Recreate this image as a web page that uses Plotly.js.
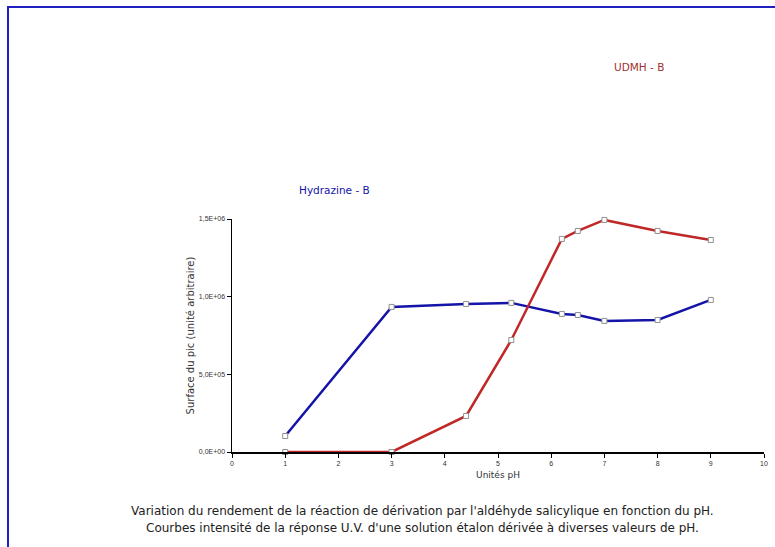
<!DOCTYPE html>
<html>
<head>
<meta charset="utf-8">
<script src="https://cdn.plot.ly/plotly-3.0.1.min.js"></script>
<style>
  html, body { margin: 0; padding: 0; background: #ffffff; }
  #frame { position: absolute; left: 7px; top: 6px; width: 775px; height: 547px;
           border-top: 2px solid #2020c0; border-left: 2px solid #2020c0; }
  #chart { position: absolute; left: 0; top: 0; width: 775px; height: 547px; }
</style>
</head>
<body>
<div id="frame"></div>
<div id="chart"></div>
<script>
// Data
const phHydrazine = [1, 3, 4.4, 5.25, 6.2, 6.5, 7, 8, 9];
const areaHydrazine = [103000, 934000, 953000, 960000, 889000, 882000, 844000, 850000, 979000];
const phUDMH = [1, 3, 4.4, 5.25, 6.2, 6.5, 7, 8, 9];
const areaUDMH = [0, 0, 232000, 721000, 1372000, 1423000, 1494000, 1423000, 1365000];
const xTicks = [0, 1, 2, 3, 4, 5, 6, 7, 8, 9, 10];
const yTickVals = [0, 500000, 1000000, 1500000];
const yTickText = ["0,0E+00", "5,0E+05", "1,0E+06", "1,5E+06"];
const labelHydrazine = "Hydrazine - B";
const labelUDMH = "UDMH - B";
const caption1 = "Variation du rendement de la réaction de dérivation par l'aldéhyde salicylique en fonction du pH.";
const caption2 = "Courbes intensité de la réponse U.V. d'une solution étalon dérivée à diverses valeurs de pH.";

const markerStyle = { symbol: "square", size: 5, color: "#ffffff", line: { color: "#909090", width: 1 } };
const wideFont = "DejaVu Sans, Verdana, sans-serif";

const traces = [
  { x: phHydrazine, y: areaHydrazine, mode: "lines+markers", name: labelHydrazine,
    line: { color: "#1414a8", width: 2.5 }, marker: markerStyle, cliponaxis: false },
  { x: phUDMH, y: areaUDMH, mode: "lines+markers", name: labelUDMH,
    line: { color: "#c02828", width: 2.5 }, marker: markerStyle, cliponaxis: false }
];

const layout = {
  width: 775, height: 547,
  margin: { l: 232, r: 11, t: 219, b: 95 },
  paper_bgcolor: "rgba(0,0,0,0)",
  plot_bgcolor: "rgba(0,0,0,0)",
  showlegend: false,
  font: { family: "Liberation Sans, Arial, sans-serif", color: "#222" },
  xaxis: {
    range: [0, 10], tickvals: xTicks, ticktext: xTicks.map(String),
    showgrid: false, zeroline: false, showline: true, linecolor: "#000", linewidth: 1.5,
    ticks: "outside", ticklen: 4, tickcolor: "#000", tickfont: { size: 7, color: "#333" },
    title: { text: "Unités pH", font: { family: wideFont, size: 9, color: "#333" }, standoff: 6 }
  },
  yaxis: {
    range: [0, 1500000], tickvals: yTickVals, ticktext: yTickText,
    showgrid: false, zeroline: false, showline: true, linecolor: "#000", linewidth: 1.5,
    ticks: "outside", ticklen: 4, tickcolor: "#000", tickfont: { size: 7, color: "#333" },
    title: { text: "Surface du pic (unité arbitraire)", font: { family: wideFont, size: 10, color: "#333" }, standoff: 2 }
  },
  annotations: [
    { xref: "paper", yref: "paper", x: (297 - 232) / 532, y: (452 - 190) / 233, xanchor: "left", yanchor: "middle",
      text: labelHydrazine, showarrow: false, font: { family: wideFont, size: 10.5, color: "#1414a8" } },
    { xref: "paper", yref: "paper", x: (612 - 232) / 532, y: (452 - 67) / 233, xanchor: "left", yanchor: "middle",
      text: labelUDMH, showarrow: false, font: { family: wideFont, size: 10.5, color: "#a03030" } },
    { xref: "paper", yref: "paper", x: (422 - 232) / 532, y: (452 - 511) / 233, xanchor: "center", yanchor: "middle",
      text: caption1, showarrow: false, font: { family: wideFont, size: 12, color: "#222" } },
    { xref: "paper", yref: "paper", x: (422 - 232) / 532, y: (452 - 528) / 233, xanchor: "center", yanchor: "middle",
      text: caption2, showarrow: false, font: { family: wideFont, size: 12, color: "#222" } }
  ]
};

Plotly.newPlot("chart", traces, layout, { staticPlot: true, displayModeBar: false });
</script>
</body>
</html>
